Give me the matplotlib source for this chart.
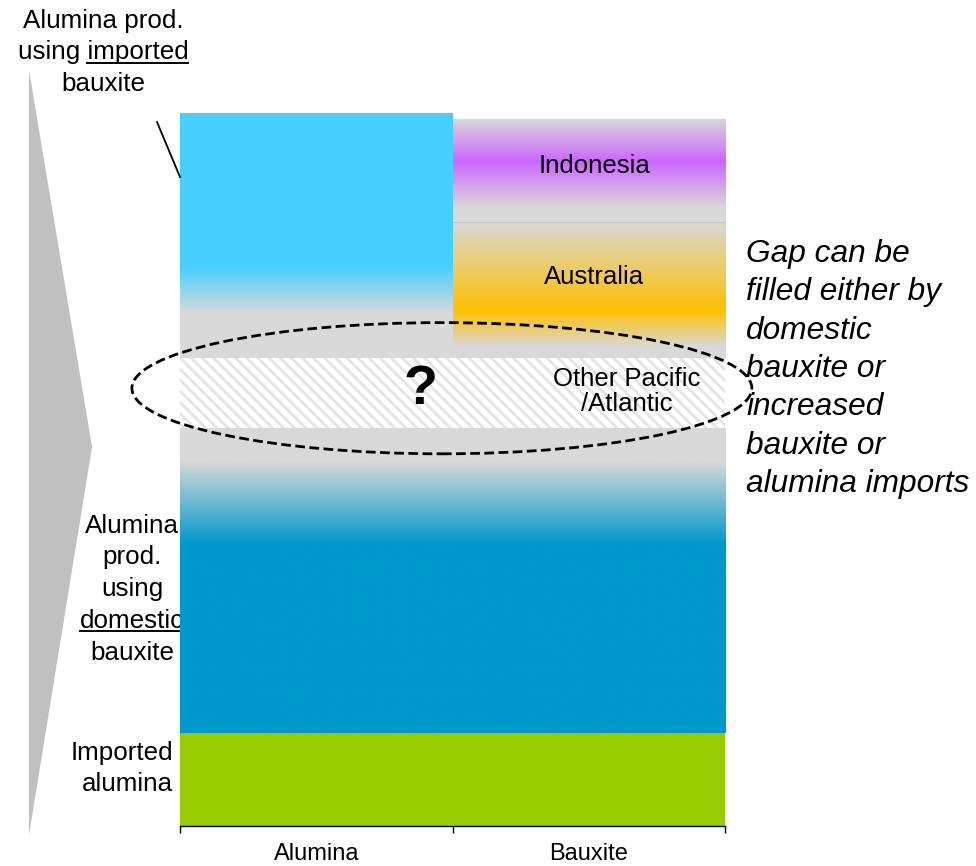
import numpy as np
import matplotlib
matplotlib.use('Agg')
import matplotlib.pyplot as plt
from matplotlib.colors import LinearSegmentedColormap
from matplotlib.patches import Ellipse, Polygon
from matplotlib.lines import Line2D

plt.rcParams['font.family'] = ['Liberation Sans', 'DejaVu Sans']
plt.rcParams['hatch.linewidth'] = 2.0

W, H = 976, 866

categories = ['Alumina', 'Bauxite']
imported_alumina = [13.0, 13.0]
domestic_bauxite = [42.8, 42.8]
gap = [9.8, 9.8]
imported_bauxite_prod = [34.4, 0.0]
australia = [0.0, 19.1]
indonesia = [0.0, 14.5]

GRAY = '#D9D9D9'
# vertical gradient stops: (fraction of segment height from bottom, colour)
domestic_stops = [(0, '#0099CC'), (0.62, '#0099CC'), (0.89, GRAY), (1, GRAY)]
imp_bx_stops = [(0, GRAY), (0.18, GRAY), (0.37, '#47D0FF'), (1, '#47D0FF')]
australia_stops = [(0, GRAY), (0.08, GRAY), (0.35, '#FFC000'), (1, GRAY)]
indonesia_stops = [(0, GRAY), (0.14, GRAY), (0.58, '#CC66FF'), (1, GRAY)]


def px(xp, yp):
    # pixel of the 976x866 canvas (origin top-left) -> figure fraction
    return xp / W, 1 - yp / H


fig = plt.figure(figsize=(W / 100, H / 100), dpi=100)
ax = fig.add_axes([180 / W, 40 / H, 545 / W, 713 / H])
x = np.arange(len(categories))


def shade(bars, stops):
    cmap = LinearSegmentedColormap.from_list('seg', stops)
    grad = np.linspace(0, 1, 256).reshape(-1, 1)
    for b in bars:
        if b.get_height() <= 0:
            continue
        x0, y0 = b.get_x(), b.get_y()
        im = ax.imshow(grad, cmap=cmap, origin='lower', aspect='auto',
                       interpolation='bilinear', zorder=1,
                       extent=(x0, x0 + b.get_width(), y0, y0 + b.get_height()))
        im.set_clip_path(b)


bottom = np.zeros(len(categories))
ax.bar(x, imported_alumina, width=1.0, bottom=bottom, color='#99CC00', zorder=1)
bottom += imported_alumina

b_dom = ax.bar(x, domestic_bauxite, width=1.0, bottom=bottom, color=GRAY, zorder=1)
shade(b_dom, domestic_stops)
bottom += domestic_bauxite

b_gap = ax.bar(x, gap, width=1.0, bottom=bottom, facecolor='white',
               edgecolor='#E4E4E4', linewidth=0, hatch='\\\\\\', zorder=1)
bottom += gap

b_ibp = ax.bar(x, imported_bauxite_prod, width=1.0, bottom=bottom, color=GRAY, zorder=1)
shade(b_ibp, imp_bx_stops)
b_aus = ax.bar(x, australia, width=1.0, bottom=bottom, color=GRAY, zorder=1)
shade(b_aus, australia_stops)
bottom += np.array(imported_bauxite_prod) + np.array(australia)

b_ind = ax.bar(x, indonesia, width=1.0, bottom=bottom, color=GRAY, zorder=1)
shade(b_ind, indonesia_stops)
for b in b_ind:
    if b.get_height() > 0:
        ax.plot([b.get_x(), b.get_x() + b.get_width()], [b.get_y()] * 2,
                color='#C4C4C4', lw=0.8, zorder=2)

# segment labels
for b, name, dy in [(b_ind[1], 'Indonesia', 0.6), (b_aus[1], 'Australia', 1.8)]:
    ax.text(b.get_x() + b.get_width() / 2 + 0.02, b.get_y() + b.get_height() / 2 + dy,
            name, ha='center', va='center', fontsize=18.5, zorder=5)

gap_mid = b_gap[0].get_y() + b_gap[0].get_height() / 2
ax.text(0.384, gap_mid + 0.4, '?', ha='center', va='center', fontsize=40,
        fontweight='bold', zorder=5)
ax.text(1.14, gap_mid + 0.2, 'Other Pacific\n/Atlantic', ha='center', va='center',
        fontsize=18.5, linespacing=1.05, zorder=5)

ell = Ellipse((0.461, 61.4), 2.275, 18.4, facecolor='none', edgecolor='black',
              lw=2.0, linestyle=(0, (3.5, 1.6)), zorder=6, clip_on=False)
ax.add_patch(ell)

ax.set_xlim(-0.5, 1.5)
ax.set_ylim(0, 100)
for s in ['left', 'right', 'top']:
    ax.spines[s].set_visible(False)
ax.spines['bottom'].set_linewidth(1.0)
ax.set_yticks([])
ax.set_xticks([-0.5, 0.5, 1.5])
ax.set_xticklabels([])
ax.set_xticks(x, minor=True)
ax.set_xticklabels(categories, minor=True, fontsize=17)
ax.tick_params(axis='x', which='major', length=5, width=1, direction='out')
ax.tick_params(axis='x', which='minor', length=0, pad=12)

# left chevron and callout line
fig.add_artist(Polygon([px(29, 70), px(92, 447), px(29, 835)], closed=True,
                       facecolor='#C0C0C0', edgecolor='none',
                       transform=fig.transFigure, zorder=0))
fig.add_artist(Line2D(*zip(px(157, 122), px(180, 177)), color='black', lw=1.3,
                      transform=fig.transFigure))


def text_lines(lines, xp, baselines, size, ha='center', z=5, **kw):
    out = []
    for line, yb in zip(lines, baselines):
        fx, fy = px(xp, yb)
        out.append(ax.text(fx, fy, line, transform=fig.transFigure, ha=ha,
                           va='baseline', fontsize=size, zorder=z,
                           clip_on=False, **kw))
    return out


t_top = text_lines(['Alumina prod.', 'using imported', 'bauxite'], 103,
                   [28, 59.5, 91], 18.7)
t_dom = text_lines(['Alumina', 'prod.', 'using', 'domestic', 'bauxite'], 132,
                   [533, 564, 596, 628, 660], 18.7, z=0.5)
text_lines(['Imported', 'alumina'], 173, [760, 791], 18.7, ha='right')
text_lines(['Gap can be', 'filled either by', 'domestic', 'bauxite or',
            'increased', 'bauxite or', 'alumina imports'], 746,
           [262 + 38.3 * i for i in range(7)], 22.8, ha='left', style='italic')

# underlines
fig.canvas.draw()
rend = fig.canvas.get_renderer()


def underline(t, word, yb, z):
    bb = t.get_window_extent(rend)
    tmp = ax.text(0, 0, word, fontsize=t.get_fontsize(), transform=fig.transFigure)
    w = tmp.get_window_extent(rend).width
    tmp.remove()
    y = (H - yb - 3) / H
    ax.add_line(Line2D([(bb.x1 - w) / W, bb.x1 / W], [y, y], color='black', lw=1.4,
                       transform=fig.transFigure, zorder=z, clip_on=False))


underline(t_top[1], 'imported', 59.5, 5)
underline(t_dom[3], 'domestic', 628, 0.5)

fig.savefig('out.png', dpi=100)
